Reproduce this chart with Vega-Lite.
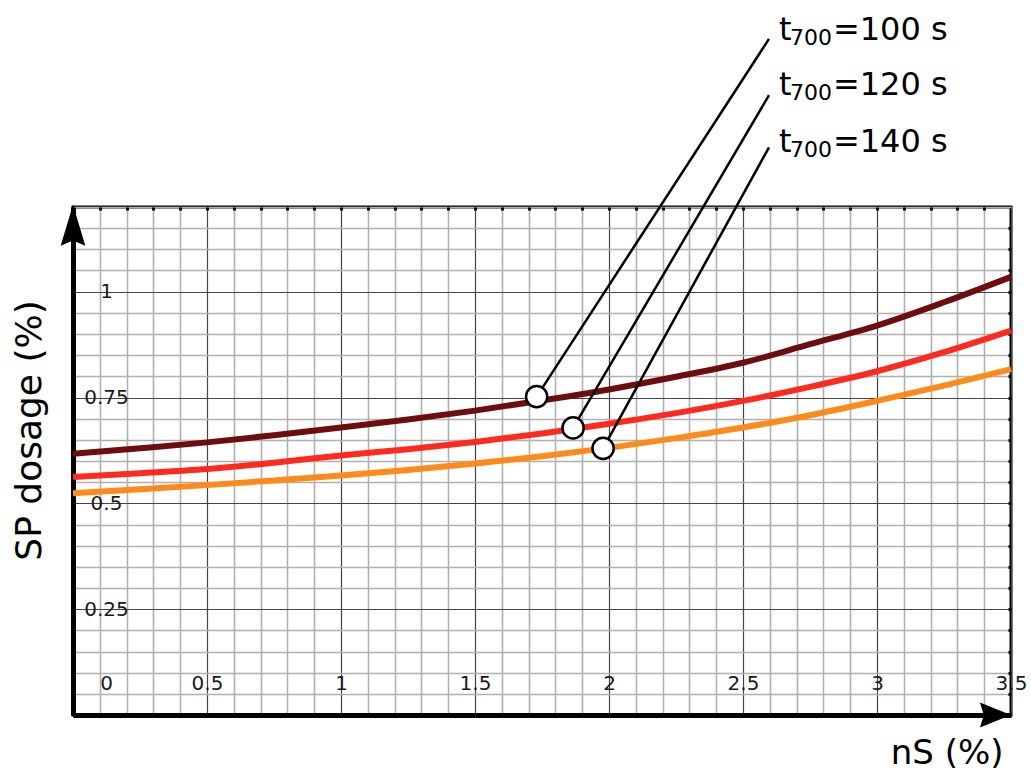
{
  "$schema": "https://vega.github.io/schema/vega-lite/v6.json",
  "width": 938,
  "height": 508,
  "autosize": {"type": "none"},
  "padding": {"left": 73, "top": 207, "right": 20, "bottom": 56},
  "background": "white",
  "config": {
    "view": {"stroke": "black", "strokeWidth": 3},
    "font": "DejaVu Sans",
    "text": {"font": "DejaVu Sans", "color": "black"}
  },
  "datasets": {
    "curves": [
      {"series": "100 s", "nS": 0, "dosage": 0.617},
      {"series": "100 s", "nS": 0.25, "dosage": 0.630},
      {"series": "100 s", "nS": 0.5, "dosage": 0.644},
      {"series": "100 s", "nS": 0.75, "dosage": 0.661},
      {"series": "100 s", "nS": 1, "dosage": 0.679},
      {"series": "100 s", "nS": 1.25, "dosage": 0.698},
      {"series": "100 s", "nS": 1.5, "dosage": 0.719},
      {"series": "100 s", "nS": 1.75, "dosage": 0.743},
      {"series": "100 s", "nS": 2, "dosage": 0.769},
      {"series": "100 s", "nS": 2.25, "dosage": 0.799},
      {"series": "100 s", "nS": 2.5, "dosage": 0.832},
      {"series": "100 s", "nS": 2.75, "dosage": 0.876},
      {"series": "100 s", "nS": 3, "dosage": 0.920},
      {"series": "100 s", "nS": 3.25, "dosage": 0.975},
      {"series": "100 s", "nS": 3.5, "dosage": 1.035},
      {"series": "120 s", "nS": 0, "dosage": 0.562},
      {"series": "120 s", "nS": 0.25, "dosage": 0.571},
      {"series": "120 s", "nS": 0.5, "dosage": 0.581},
      {"series": "120 s", "nS": 0.75, "dosage": 0.596},
      {"series": "120 s", "nS": 1, "dosage": 0.613},
      {"series": "120 s", "nS": 1.25, "dosage": 0.628},
      {"series": "120 s", "nS": 1.5, "dosage": 0.645},
      {"series": "120 s", "nS": 1.75, "dosage": 0.665},
      {"series": "120 s", "nS": 2, "dosage": 0.688},
      {"series": "120 s", "nS": 2.25, "dosage": 0.713},
      {"series": "120 s", "nS": 2.5, "dosage": 0.742},
      {"series": "120 s", "nS": 2.75, "dosage": 0.775},
      {"series": "120 s", "nS": 3, "dosage": 0.812},
      {"series": "120 s", "nS": 3.25, "dosage": 0.857},
      {"series": "120 s", "nS": 3.5, "dosage": 0.908},
      {"series": "140 s", "nS": 0, "dosage": 0.524},
      {"series": "140 s", "nS": 0.25, "dosage": 0.533},
      {"series": "140 s", "nS": 0.5, "dosage": 0.543},
      {"series": "140 s", "nS": 0.75, "dosage": 0.554},
      {"series": "140 s", "nS": 1, "dosage": 0.566},
      {"series": "140 s", "nS": 1.25, "dosage": 0.579},
      {"series": "140 s", "nS": 1.5, "dosage": 0.594},
      {"series": "140 s", "nS": 1.75, "dosage": 0.611},
      {"series": "140 s", "nS": 2, "dosage": 0.631},
      {"series": "140 s", "nS": 2.25, "dosage": 0.654},
      {"series": "140 s", "nS": 2.5, "dosage": 0.679},
      {"series": "140 s", "nS": 2.75, "dosage": 0.708},
      {"series": "140 s", "nS": 3, "dosage": 0.742},
      {"series": "140 s", "nS": 3.25, "dosage": 0.778},
      {"series": "140 s", "nS": 3.5, "dosage": 0.817}
    ],
    "notes": [
      {"series": "100 s", "cx": 1.73, "cy": 0.752, "ex": 2.597, "ey": 1.597, "tx": 2.634, "ty": 1.595, "label": "=100 s"},
      {"series": "120 s", "cx": 1.866, "cy": 0.678, "ex": 2.597, "ey": 1.464, "tx": 2.634, "ty": 1.464, "label": "=120 s"},
      {"series": "140 s", "cx": 1.978, "cy": 0.630, "ex": 2.597, "ey": 1.341, "tx": 2.634, "ty": 1.329, "label": "=140 s"}
    ],
    "arrows": [
      {"axis": "y", "nS": 0, "dosage": 1.157},
      {"axis": "x", "nS": 3.442, "dosage": 0}
    ]
  },
  "resolve": {"axis": {"x": "independent", "y": "independent"}},
  "layer": [
    {
      "data": {"name": "curves"},
      "mark": {"type": "line", "strokeWidth": 6, "interpolate": "monotone"},
      "encoding": {
        "x": {
          "field": "nS",
          "type": "quantitative",
          "scale": {"domain": [0, 3.5], "nice": false, "zero": false},
          "axis": {
            "orient": "bottom",
            "values": [0, 0.1, 0.2, 0.3, 0.4, 0.5, 0.6, 0.7, 0.8, 0.9, 1, 1.1, 1.2, 1.3, 1.4, 1.5, 1.6, 1.7, 1.8, 1.9, 2, 2.1, 2.2, 2.3, 2.4, 2.5, 2.6, 2.7, 2.8, 2.9, 3, 3.1, 3.2, 3.3, 3.4, 3.5],
            "grid": true,
            "gridOpacity": 1,
            "gridColor": {"condition": {"test": "indexof([0,0.5,1,1.5,2,2.5,3,3.5], datum.value) >= 0", "value": "#444444"}, "value": "#b0b0b0"},
            "gridWidth": {"condition": {"test": "indexof([0,0.5,1,1.5,2,2.5,3,3.5], datum.value) >= 0", "value": 1.2}, "value": 1.6},
            "ticks": false,
            "tickSize": 0,
            "domain": true,
            "domainColor": "black",
            "domainWidth": 5,
            "labelExpr": "indexof([0,0.5,1,1.5,2,2.5,3,3.5], datum.value) >= 0 ? '' + datum.value : ''",
            "labelFlush": false,
            "labelOverlap": false,
            "labelBound": false,
            "labelAlign": "center",
            "labelBaseline": "middle",
            "labelPadding": -32,
            "labelOffset": {"condition": {"test": "datum.value === 0", "value": 33}, "value": 0},
            "labelFont": "DejaVu Sans",
            "labelFontSize": 20,
            "labelColor": "#1a1a1a",
            "title": "nS (%)",
            "titleFont": "DejaVu Sans",
            "titleFontSize": 34,
            "titleFontWeight": "normal",
            "titleColor": "black",
            "titleX": 930,
            "titleY": 48,
            "titleAlign": "right",
            "titleBaseline": "alphabetic"
          }
        },
        "y": {
          "field": "dosage",
          "type": "quantitative",
          "scale": {"domain": [0, 1.2], "nice": false, "zero": false},
          "axis": {
            "orient": "left",
            "values": [0, 0.05, 0.1, 0.15, 0.2, 0.25, 0.3, 0.35, 0.4, 0.45, 0.5, 0.55, 0.6, 0.65, 0.7, 0.75, 0.8, 0.85, 0.9, 0.95, 1, 1.05, 1.1, 1.15, 1.2],
            "grid": true,
            "gridOpacity": 1,
            "gridColor": {"condition": {"test": "indexof([0,0.25,0.5,0.75,1], datum.value) >= 0", "value": "#444444"}, "value": "#b0b0b0"},
            "gridWidth": {"condition": {"test": "indexof([0,0.25,0.5,0.75,1], datum.value) >= 0", "value": 1.2}, "value": 1.6},
            "ticks": false,
            "tickSize": 0,
            "domain": true,
            "domainColor": "black",
            "domainWidth": 5,
            "labelExpr": "indexof([0.25,0.5,0.75,1], datum.value) >= 0 ? '' + datum.value : ''",
            "labelFlush": false,
            "labelOverlap": false,
            "labelBound": false,
            "labelAlign": "center",
            "labelBaseline": "middle",
            "labelPadding": -33,
            "labelFont": "DejaVu Sans",
            "labelFontSize": 20,
            "labelColor": "#1a1a1a",
            "title": "SP dosage (%)",
            "titleFont": "DejaVu Sans",
            "titleFontSize": 36,
            "titleFontWeight": "normal",
            "titleColor": "black",
            "titleAngle": 270,
            "titleX": -33,
            "titleY": 223,
            "titleAlign": "center",
            "titleBaseline": "alphabetic"
          }
        },
        "color": {
          "field": "series",
          "type": "nominal",
          "scale": {"domain": ["100 s", "120 s", "140 s"], "range": ["#6e0d0d", "#ff2a1f", "#ff8a1c"]},
          "legend": null
        }
      }
    },
    {
      "data": {"name": "notes"},
      "mark": {"type": "rule", "stroke": "black", "strokeWidth": 2.5},
      "encoding": {
        "x": {"field": "cx", "type": "quantitative", "axis": null},
        "y": {"field": "cy", "type": "quantitative", "axis": null},
        "x2": {"field": "ex"},
        "y2": {"field": "ey"}
      }
    },
    {
      "data": {"name": "notes"},
      "mark": {"type": "point", "filled": true, "fill": "white", "stroke": "black", "strokeWidth": 2.5, "size": 450, "opacity": 1},
      "encoding": {
        "x": {"field": "cx", "type": "quantitative", "axis": null},
        "y": {"field": "cy", "type": "quantitative", "axis": null}
      }
    },
    {
      "data": {"name": "notes"},
      "mark": {"type": "text", "text": "t", "fontSize": 32, "align": "left", "baseline": "alphabetic"},
      "encoding": {
        "x": {"field": "tx", "type": "quantitative", "axis": null},
        "y": {"field": "ty", "type": "quantitative", "axis": null}
      }
    },
    {
      "data": {"name": "notes"},
      "mark": {"type": "text", "text": "700", "fontSize": 22, "align": "left", "baseline": "alphabetic", "dx": 11, "dy": 5},
      "encoding": {
        "x": {"field": "tx", "type": "quantitative", "axis": null},
        "y": {"field": "ty", "type": "quantitative", "axis": null}
      }
    },
    {
      "data": {"name": "notes"},
      "mark": {"type": "text", "fontSize": 32, "align": "left", "baseline": "alphabetic", "dx": 54},
      "encoding": {
        "x": {"field": "tx", "type": "quantitative", "axis": null},
        "y": {"field": "ty", "type": "quantitative", "axis": null},
        "text": {"field": "label"}
      }
    },
    {
      "data": {"name": "arrows"},
      "transform": [{"filter": "datum.axis === 'y'"}],
      "mark": {"type": "point", "shape": "M0,-1L0.6,1L0,0.75L-0.6,1Z", "filled": true, "color": "black", "size": 1681, "opacity": 1},
      "encoding": {
        "x": {"field": "nS", "type": "quantitative", "axis": null},
        "y": {"field": "dosage", "type": "quantitative", "axis": null}
      }
    },
    {
      "data": {"name": "arrows"},
      "transform": [{"filter": "datum.axis === 'x'"}],
      "mark": {"type": "point", "shape": "M1,0L-1,0.8L-0.75,0L-1,-0.8Z", "filled": true, "color": "black", "size": 961, "opacity": 1},
      "encoding": {
        "x": {"field": "nS", "type": "quantitative", "axis": null},
        "y": {"field": "dosage", "type": "quantitative", "axis": null}
      }
    },
    {
      "data": {"name": "arrows"},
      "mark": {"type": "point", "opacity": 0},
      "encoding": {
        "x": {
          "field": "nS",
          "type": "quantitative",
          "axis": {
            "orient": "top",
            "values": [0.1, 0.2, 0.3, 0.4, 0.5, 0.6, 0.7, 0.8, 0.9, 1, 1.1, 1.2, 1.3, 1.4, 1.5, 1.6, 1.7, 1.8, 1.9, 2, 2.1, 2.2, 2.3, 2.4, 2.5, 2.6, 2.7, 2.8, 2.9, 3, 3.1, 3.2, 3.3, 3.4],
            "grid": false,
            "domain": false,
            "labels": false,
            "ticks": true,
            "tickColor": "black",
            "tickWidth": 3,
            "tickSize": -3,
            "title": null
          }
        },
        "y": {
          "field": "dosage",
          "type": "quantitative",
          "axis": {
            "orient": "right",
            "values": [0.05, 0.1, 0.15, 0.2, 0.25, 0.3, 0.35, 0.4, 0.45, 0.5, 0.55, 0.6, 0.65, 0.7, 0.75, 0.8, 0.85, 0.9, 0.95, 1, 1.05, 1.1, 1.15],
            "grid": false,
            "domain": false,
            "labels": false,
            "ticks": true,
            "tickColor": "black",
            "tickWidth": 3,
            "tickSize": -3,
            "title": null
          }
        }
      }
    }
  ]
}
